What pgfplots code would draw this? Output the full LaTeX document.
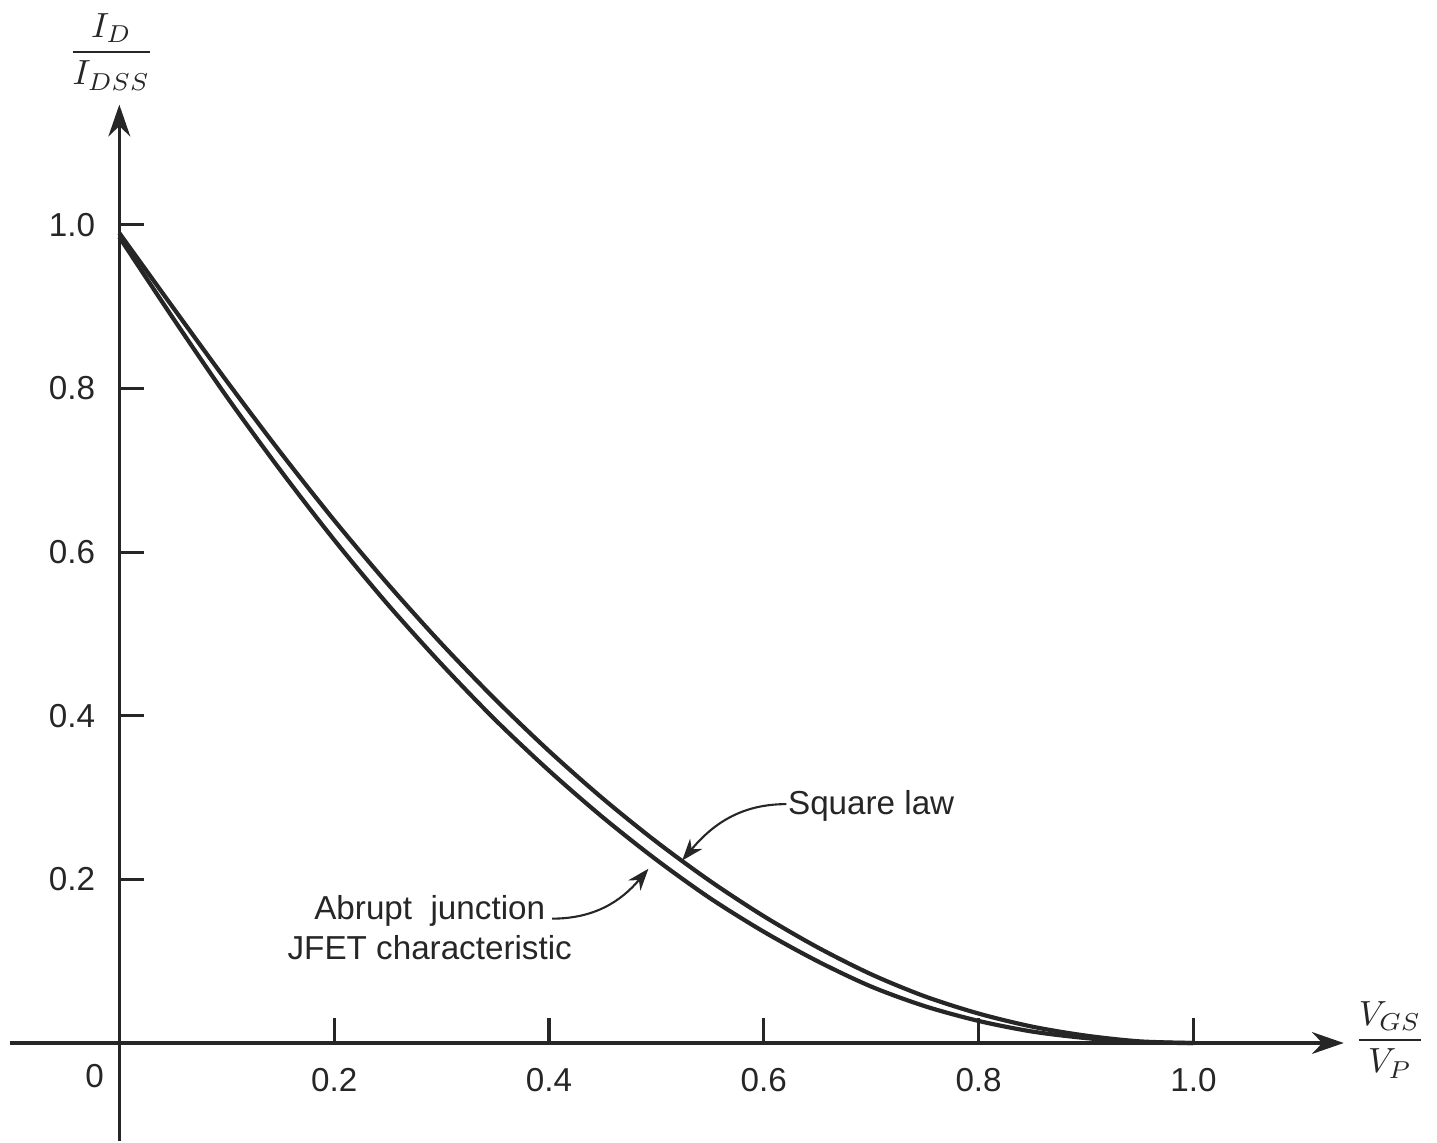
\documentclass[border=0pt]{standalone}
\usepackage{pgfplots}
\pgfplotsset{compat=1.18}
\usepackage{fontspec}
\setmainfont{Liberation Sans}
\usetikzlibrary{arrows.meta}
\begin{document}
\begin{tikzpicture}
\begin{axis}[
  scale only axis, width=13.41cm, height=10.42cm,
  xmin=-0.102, xmax=1.14, ymin=-0.12, ymax=1.147,
  axis lines=middle,
  axis line style={line width=0.95pt, color=black!85, -{Stealth[length=0.32cm,width=0.22cm]}},
  xtick={0.2,0.4,0.6,0.8,1.0}, ytick={0.2,0.4,0.6,0.8,1.0},
  xticklabels={0.2,0.4,0.6,0.8,1.0}, yticklabels={0.2,0.4,0.6,0.8,1.0},
  tick align=inside, major tick length=0.25cm,
  tick style={line width=0.9pt, black!85},
  ticklabel style={font=\fontsize{9.5}{11}\selectfont, text=black!85},
  xticklabel style={yshift=-0.13cm},
  yticklabel style={xshift=-0.12cm},
  clip=false,
]
% invisible frame fixing the picture's extent
\path (axis cs:-0.1111,-0.1204) rectangle (axis cs:1.2194,1.2749);

% square law (upper)
\addplot[smooth, line width=1.2pt, black!85] coordinates {
(0,0.99) (0.05,0.899) (0.1,0.809) (0.15,0.722) (0.2,0.639) (0.25,0.561)
(0.3,0.488) (0.35,0.420) (0.4,0.357) (0.45,0.299) (0.5,0.246) (0.55,0.198)
(0.6,0.155) (0.65,0.117) (0.7,0.084) (0.75,0.057) (0.8,0.036) (0.85,0.020)
(0.9,0.009) (0.95,0.002) (1.0,0.0)};

% abrupt junction (lower)
\addplot[smooth, line width=1.2pt, black!85] coordinates {
(0,0.985) (0.05,0.886) (0.1,0.790) (0.15,0.700) (0.2,0.615) (0.25,0.536)
(0.3,0.463) (0.35,0.395) (0.4,0.333) (0.45,0.276) (0.5,0.224) (0.55,0.177)
(0.6,0.136) (0.65,0.100) (0.7,0.069) (0.75,0.045) (0.8,0.027) (0.85,0.014)
(0.9,0.006) (0.95,0.001) (1.0,0.0)};

\node[font=\fontsize{9.5}{11}\selectfont, text=black!85] at (axis cs:-0.023,-0.041) {0};

\node[font=\fontsize{9.5}{11}\selectfont, text=black!85, anchor=west, inner sep=0pt] at (axis cs:0.622,0.2895) {Square law};
\node[font=\fontsize{9.5}{11.5}\selectfont, text=black!85, align=center] at (axis cs:0.289,0.141) {Abrupt\ \ junction\\JFET characteristic};

\draw[line width=0.6pt, black!85, -{Stealth[length=2.2mm,width=1.6mm]}] (axis cs:0.621,0.292) to[out=180,in=50] (axis cs:0.524,0.223);
\draw[line width=0.6pt, black!85, -{Stealth[length=2.2mm,width=1.6mm]}] (axis cs:0.403,0.152) to[out=0,in=230] (axis cs:0.4926,0.213);

\node[text=black!85] at (axis cs:-0.0074,1.2117) {$\displaystyle\frac{I_D}{I_{DSS}}$};
\node[text=black!85] at (axis cs:1.183,0.004) {$\displaystyle\frac{V_{GS}}{V_P}$};
\end{axis}
\end{tikzpicture}
\end{document}
